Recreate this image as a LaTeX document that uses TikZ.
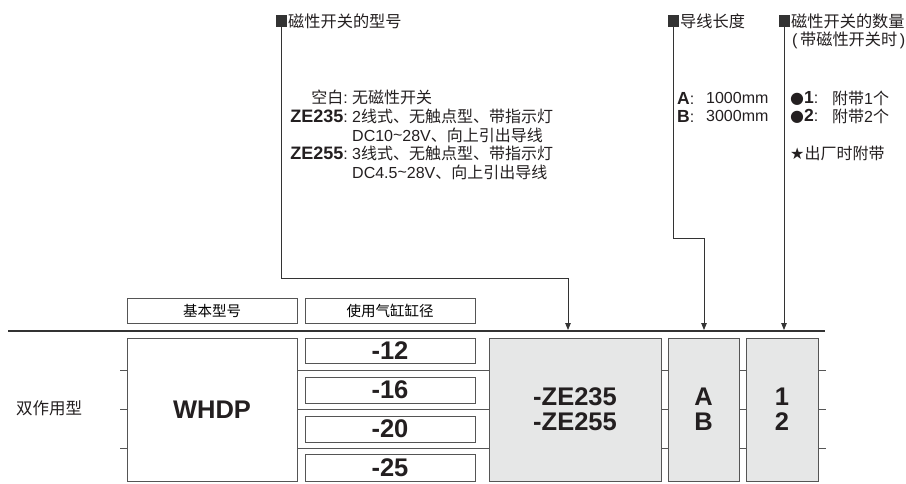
\documentclass[tikz,border=0pt]{standalone}
\usepackage{fontspec}
\setmainfont{Liberation Sans}
\newfontfamily\cjk{Noto Sans CJK SC}
\newfontfamily\sym{DejaVu Sans}
\usetikzlibrary{arrows.meta}
\newcommand\zh[1]{{\cjk #1}}
\definecolor{ln}{HTML}{333333}
\definecolor{bx}{HTML}{555555}
\definecolor{gf}{HTML}{E6E7E7}
\definecolor{tx}{HTML}{231F20}
\tikzset{
  box/.style={draw=bx,line width=0.9pt,fill=white,inner sep=0pt},
  gbox/.style={draw=bx,line width=0.9pt,fill=gf,inner sep=0pt},
  conn/.style={draw=ln,line width=0.8pt},
  arr/.style={conn,-{Triangle[length=7pt,width=5.5pt]}},
  sq/.style={fill=ln,minimum width=11pt,minimum height=12pt,inner sep=0pt},
  big/.style={font=\fontsize{25.5}{25}\selectfont\bfseries,text=tx,align=center},
  small/.style={font=\fontsize{16}{18}\selectfont,text=tx,inner sep=0pt},
  blab/.style={font=\fontsize{18}{18}\selectfont\bfseries,text=tx,inner sep=0pt},
  lab/.style={font=\fontsize{16.2}{18}\selectfont,text=tx,inner sep=0pt},
}
\begin{document}
\begin{tikzpicture}[x=1pt,y=-1pt]
\useasboundingbox (0,0) rectangle (906,483);
% top labels
\node[sq] (sq1) at (281,21) {};
\node[lab,anchor=west] (t1) at (288,21) {\zh{磁性开关的型号}};
\node[sq] (sq2) at (673,21) {};
\node[lab,anchor=west] (t2) at (680,21) {\zh{导线长度}};
\node[sq] (sq3) at (784,21) {};
\node[lab,anchor=west] (t3) at (791,21) {\zh{磁性开关的数量}};
\node[lab,anchor=west] (t3b) at (792,40) {(\hspace{2.5pt}\zh{带磁性开关时}\hspace{2.5pt})};
% descriptions
\node[small,anchor=east] (d1l) at (348,97) {\zh{空白}:};
\node[small,anchor=west] (d1r) at (352,97) {\zh{无磁性开关}};
\node[blab,anchor=east] (d2l) at (348,116) {ZE235{\fontseries{m}\selectfont\fontsize{16}{18}\selectfont:}};
\node[small,anchor=west] (d2r) at (352,116) {2\zh{线式、无触点型、带指示灯}};
\node[small,anchor=west] (d3r) at (352,135) {DC10\raisebox{0.1ex}{\textasciitilde}28V\zh{、向上引出导线}};
\node[blab,anchor=east] (d4l) at (348,153) {ZE255{\fontseries{m}\selectfont\fontsize{16}{18}\selectfont:}};
\node[small,anchor=west] (d4r) at (352,153) {3\zh{线式、无触点型、带指示灯}};
\node[small,anchor=west] (d5r) at (352,172) {DC4.5\raisebox{0.1ex}{\textasciitilde}28V\zh{、向上引出导线}};
\node[small,anchor=west] (a1) at (677,98) {{\bfseries\fontsize{17.5}{18}\selectfont A}:};
\node[small,anchor=west] (a1r) at (706,98) {1000mm};
\node[small,anchor=west] (a2) at (677,116) {{\bfseries\fontsize{17.5}{18}\selectfont B}:};
\node[small,anchor=west] (a2r) at (706,116) {3000mm};
\node[small,anchor=west] (n1) at (790,98) {{\sym●}{\bfseries\fontsize{17.5}{18}\selectfont 1}:};
\node[small,anchor=west] (n1r) at (832,98) {\zh{附带}1\zh{个}};
\node[small,anchor=west] (n2) at (790,116) {{\sym●}{\bfseries\fontsize{17.5}{18}\selectfont 2}:};
\node[small,anchor=west] (n2r) at (832,116) {\zh{附带}2\zh{个}};
\node[small,anchor=west] (star) at (790,153) {{\sym★}\zh{出厂时附带}};
% connector targets on the main line
\coordinate (m1) at (568,330);
\coordinate (m2) at (704,330);
\coordinate (m3) at (784,330);
\coordinate (k1) at (281,278);
\coordinate (k2) at (673,238);
\draw[arr] (sq1.south) -- (k1) -- (m1 |- k1) -- (m1);
\draw[arr] (sq2.south) -- (k2) -- (m2 |- k2) -- (m2);
\draw[arr] (sq3.south) -- (m3);
% main line
\coordinate (ml) at (8,331);
\coordinate (mr) at (825,331);
\draw[draw=ln,line width=2.4pt] (ml) -- (mr);
% row separator lines
\foreach \yy in {370,409,448} \draw[draw=bx,line width=0.8pt] (120,\yy) -- (826,\yy);
% header boxes
\node[box,minimum width=170pt,minimum height=25pt,font=\fontsize{14.5}{17}\selectfont] (h1) at (212,310.5) {\zh{基本型号}};
\node[box,minimum width=170pt,minimum height=25pt,font=\fontsize{14.5}{17}\selectfont] (h2) at (390,310.5) {\zh{使用气缸缸径}};
% main boxes
\node[box,minimum width=170pt,minimum height=143pt,big] (whdp) at (212,409.5) {WHDP};
\node[box,minimum width=170pt,minimum height=25pt,big] (s12) at (390,350.5) {-12};
\node[box,minimum width=170pt,minimum height=26pt,big] (s16) at (390,390) {-16};
\node[box,minimum width=170pt,minimum height=26pt,big] (s20) at (390,429) {-20};
\node[box,minimum width=170pt,minimum height=27pt,big] (s25) at (390,467.5) {-25};
\node[gbox,minimum width=172pt,minimum height=143pt,big] (ze) at (575,409.5) {-ZE235\\-ZE255};
\node[gbox,minimum width=71pt,minimum height=143pt,big] (ab) at (703.5,409.5) {A\\B};
\node[gbox,minimum width=72pt,minimum height=143pt,big] (num) at (782,409.5) {1\\2};
% left label
\node[font=\fontsize{16.5}{19}\selectfont,text=tx,inner sep=0pt,anchor=west] (dz) at (16,408) {\zh{双作用型}};
\end{tikzpicture}
\end{document}
